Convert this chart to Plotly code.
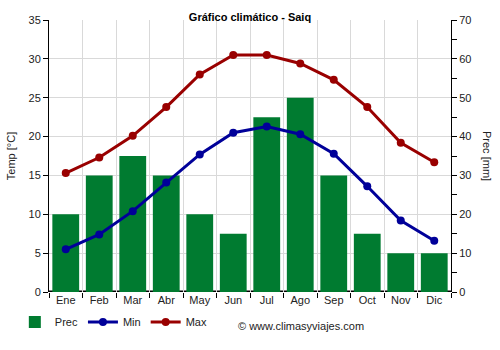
import plotly.graph_objects as go

months = ["Ene", "Feb", "Mar", "Abr", "May", "Jun", "Jul", "Ago", "Sep", "Oct", "Nov", "Dic"]
prec = [20, 30, 35, 30, 20, 15, 45, 50, 30, 15, 10, 10]
tmin = [5.5, 7.4, 10.4, 14.1, 17.7, 20.5, 21.3, 20.3, 17.8, 13.6, 9.2, 6.6]
tmax = [15.3, 17.3, 20.1, 23.8, 28.0, 30.5, 30.5, 29.4, 27.3, 23.8, 19.2, 16.7]

GREEN = "#007b30"
BLUE = "#000099"
RED = "#990000"
FONT = "Liberation Sans, Arial, sans-serif"

fig = go.Figure()
fig.add_trace(go.Bar(x=months, y=prec, name="Prec", marker=dict(color=GREEN, line=dict(width=0)),
                     width=0.8, yaxis="y"))
fig.add_trace(go.Scatter(x=months, y=tmin, name="Min", mode="lines+markers", yaxis="y2",
                         line=dict(color=BLUE, width=3), marker=dict(size=8, color=BLUE)))
fig.add_trace(go.Scatter(x=months, y=tmax, name="Max", mode="lines+markers", yaxis="y2",
                         line=dict(color=RED, width=3), marker=dict(size=8, color=RED)))

fig.update_layout(
    width=500, height=350,
    margin=dict(l=49, r=49, t=20, b=58),
    plot_bgcolor="white", paper_bgcolor="white",
    font=dict(family=FONT, size=11, color="#222"),
    title=dict(text="<b>Gráfico climático - Saiq</b>", x=0.5, xanchor="center", y=1 - 17 / 350,
               yanchor="middle", font=dict(size=11, color="#000")),
    showlegend=True,
    legend=dict(orientation="h", x=-0.085, y=-0.11, xanchor="left", yanchor="middle",
                font=dict(size=11, color="#222"), tracegroupgap=0, traceorder="normal"),
    bargap=0.2,
    xaxis=dict(tickson="boundaries", ticks="outside", ticklen=5, tickcolor="#000",
               showgrid=True, gridcolor="#d9d9d9", gridwidth=1, showline=False,
               range=[-0.5, 11.5], layer="below traces"),
    yaxis=dict(range=[0, 70], dtick=10, side="right", ticks="outside",
               ticklen=5, tickcolor="#000", showline=True, linecolor="#000", linewidth=1,
               showgrid=True, gridcolor="#d9d9d9", zeroline=False,
               minor=dict(dtick=5, ticks="outside", ticklen=5, tickcolor="#000", showgrid=False)),
    yaxis2=dict(range=[0, 35], dtick=5, overlaying="y", side="left", ticks="outside", ticklen=5,
                tickcolor="#000", showline=True, linecolor="#000", linewidth=1, showgrid=False,
                zeroline=False,
                title=dict(text="Temp [°C]", font=dict(size=11, color="#222"), standoff=10)),
)

fig.add_shape(type="line", xref="paper", yref="y", x0=0, x1=1, y0=0, y1=0,
              line=dict(color="#000", width=3), layer="below")

fig.add_annotation(text="Prec [mm]", xref="paper", yref="paper", x=1, xshift=44, y=0.5,
                   textangle=90, showarrow=False, font=dict(size=11, color="#222"))
fig.add_annotation(text="© www.climasyviajes.com", xref="paper", yref="paper",
                   x=0.465, y=-0.125, xanchor="left", yanchor="middle", showarrow=False,
                   font=dict(size=11, color="#222"))

fig.write_html("out.html")
